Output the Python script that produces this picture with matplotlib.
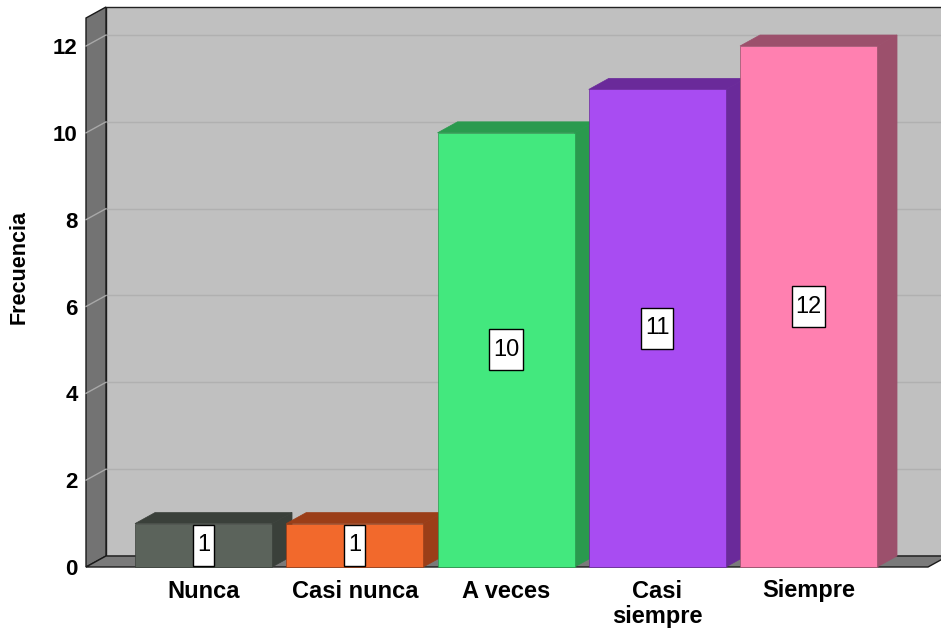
import numpy as np
import matplotlib
matplotlib.use('Agg')
import matplotlib.pyplot as plt
from matplotlib.patches import Polygon, Rectangle
from matplotlib.path import Path

# ---- datos ----
categorias = ['Nunca', 'Casi nunca', 'A veces', 'Casi\nsiempre', 'Siempre']
frecuencia = [1, 1, 10, 11, 12]
y_ticks = [0, 2, 4, 6, 8, 10, 12]

# colores frente / lado de cada barra
col_frente = ['#5b635b', '#f2692c', '#43e87e', '#a84cf2', '#ff80b0']
col_lado = ['#3a403a', '#9b3e18', '#2a9a4e', '#6a2a9a', '#9c506c']

plt.rcParams['font.family'] = ['Liberation Sans', 'DejaVu Sans']


# caja de etiqueta: poco margen a los lados, mas arriba y abajo
def caja(x0, y0, width, height, mutation_size):
    px = 0.16 * mutation_size
    py = 0.40 * mutation_size
    a, b = x0 - px, y0 - py
    c, d = x0 + width + px, y0 + height + py
    return Path([(a, b), (c, b), (c, d), (a, d), (a, b)],
                [Path.MOVETO, Path.LINETO, Path.LINETO, Path.LINETO, Path.CLOSEPOLY])


fig = plt.figure(figsize=(9.41, 6.36), dpi=100)
ax = fig.add_axes([86/941, 1-567/636, (928-86)/941, (567-18)/636])

xmin, xmax = -0.777, 4.790
ymax = 12.645
dx, dy = 0.1322, 0.2535   # profundidad del efecto 3D
ancho = 0.906

ax.set_xlim(xmin, xmax)
ax.set_ylim(0, ymax)
ax.patch.set_visible(False)
for s in ax.spines.values():
    s.set_visible(False)

# pared de fondo
ax.add_patch(Rectangle((xmin+dx, dy), xmax-xmin+0.5, ymax, facecolor='#c0c0c0',
                       edgecolor='#222222', linewidth=1.0, clip_on=False, zorder=1))
# pared izquierda
ax.add_patch(Polygon([(xmin, 0), (xmin+dx, dy), (xmin+dx, ymax+dy), (xmin, ymax)],
                     closed=True, facecolor='#737373', edgecolor='#1a1a1a',
                     linewidth=1.0, clip_on=False, zorder=2))
# suelo
ax.add_patch(Polygon([(xmin, 0), (xmax, 0), (xmax+dx, dy), (xmin+dx, dy)],
                     closed=True, facecolor='#7a7a7a', edgecolor='#1a1a1a',
                     linewidth=1.0, clip_on=False, zorder=2))

# lineas de rejilla
for v in y_ticks[1:]:
    ax.plot([xmin+dx, xmax+dx+0.5], [v+dy, v+dy], color='#b0b0b0', linewidth=1.0,
            clip_on=False, zorder=1.5)
    ax.plot([xmin, xmin+dx], [v, v+dy], color='#a8a8a8', linewidth=1.0,
            clip_on=False, zorder=2.5)

# barras 3D
for i, (v, cf, cl) in enumerate(zip(frecuencia, col_frente, col_lado)):
    x0 = i - ancho/2
    x1 = i + ancho/2
    z = 3 + i
    ax.add_patch(Polygon([(x0, v), (x1, v), (x1+dx, v+dy), (x0+dx, v+dy)], closed=True,
                         facecolor=cl, edgecolor=cl, linewidth=0.5, zorder=z, clip_on=False))
    ax.add_patch(Polygon([(x1, 0), (x1+dx, dy), (x1+dx, v+dy), (x1, v)], closed=True,
                         facecolor=cl, edgecolor=cl, linewidth=0.5, zorder=z, clip_on=False))
    ax.add_patch(Rectangle((x0, 0), ancho, v, facecolor=cf, edgecolor=cl,
                           linewidth=0.5, zorder=z+0.5, clip_on=False))
    ax.text(i, v/2, str(v), ha='center', va='center', fontsize=17, zorder=20,
            bbox=dict(boxstyle=caja, facecolor='white', edgecolor='black',
                      linewidth=1.0))

ax.set_xticks(range(len(categorias)))
ax.set_xticklabels(categorias, fontsize=17, fontweight='bold', linespacing=1.15)
ax.set_yticks(y_ticks)
ax.set_yticklabels([str(t) for t in y_ticks], fontsize=16, fontweight='bold')
ax.tick_params(axis='both', length=0)
ax.tick_params(axis='x', pad=9)
ax.tick_params(axis='y', pad=6)

ax.set_ylabel('Frecuencia', fontsize=15.5, fontweight='bold')
ax.yaxis.set_label_coords(-0.0665, 0.546)

fig.savefig('out.png', dpi=100)
